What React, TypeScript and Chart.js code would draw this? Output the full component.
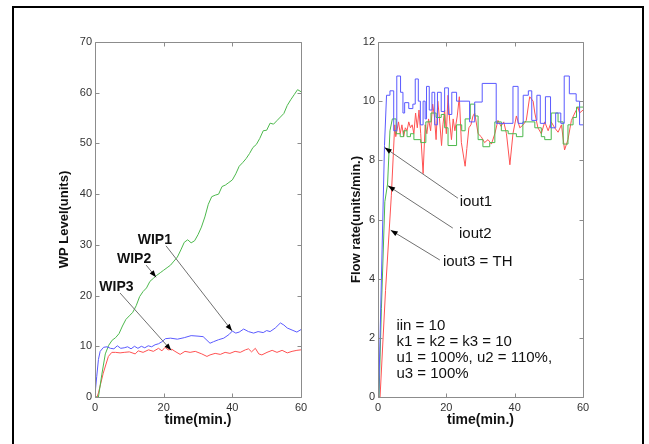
import React, { useEffect, useRef } from "react";
import { Chart, registerables } from "chart.js";

Chart.register(...registerables);

type Pt = [number, number];

const FONT = '"Liberation Sans", Arial, sans-serif';

// ---------- Left panel: WIP levels (time, units) ----------
const xTicksTime = [0, 20, 40, 60];
const wipYRange = [0, 70];
const wipYStep = 10;

const wip1: Pt[] = [[0,0.5],[0.5,4],[1,7.4],[1.5,9],[2.5,9.8],[3.5,9.9],[4.5,9.6],[5.5,9.5],[6.5,10.1],[7.5,9.6],[8.5,9.7],[9.5,9.9],[10.5,9.5],[11.5,10.0],[12.5,9.6],[13.5,10.0],[14.5,9.7],[15.5,10.1],[16.5,9.9],[17.5,10.3],[18.5,10.5],[19.5,10.9],[20.5,11.5],[22,11.6],[24,11.4],[26,11.7],[28,12.1],[30,12.0],[31.5,11.9],[33.5,10.6],[34.5,10.9],[36,11.3],[37.5,11.6],[39,12.3],[40,13.0],[41,12.6],[42,12.8],[43.3,13.4],[44.7,12.9],[46.2,12.6],[47.5,12.9],[49,12.7],[50,13.1],[51,12.9],[52.5,13.6],[54,14.6],[55,14.2],[56,13.6],[57.4,13.2],[58.8,12.8],[60,13.3]];

const wip2: Pt[] = [[0,0],[1,0],[2,4.5],[3,8.5],[4,10.2],[5,11.2],[6,11.7],[7,12.5],[8,14.0],[9,15.3],[10,16.0],[11,16.7],[12,18.0],[13,19.8],[14,20.8],[15,21.5],[16,22.8],[17,23.4],[18,24.0],[19,24.5],[20,25.0],[21,25.5],[22,26.0],[23,26.8],[24,27.6],[25,29.0],[26,30.5],[27,31.0],[28,30.4],[29,30.8],[30,32.0],[31,33.5],[32,35.5],[33,38.0],[34,39.5],[35,39.8],[36,40.0],[37,41.5],[38,41.8],[39,42.3],[40,42.8],[41,44.0],[42,45.5],[43,46.2],[44,47.0],[45,48.0],[46,49.2],[47,49.8],[48,51.0],[49,52.5],[50,52.6],[51,54.0],[52,53.8],[53,54.5],[54,55.2],[55,55.9],[56,57.5],[57,58.6],[58,59.6],[59,60.6],[60,60.2]];

const wip3: Pt[] = [[0,0],[0.6,0],[1,0.8],[2.4,4.7],[3.9,8.0],[4.9,8.8],[6,8.8],[7.3,8.7],[8.5,8.8],[10,8.9],[11.7,8.5],[12.6,9.1],[14,8.8],[15.6,9.3],[17,9.0],[18.5,9.6],[19.5,9.1],[20.4,9.8],[21.3,9.3],[22.4,9.4],[23.3,9.0],[24.8,8.4],[26.2,9.0],[27.7,8.8],[29.2,9.0],[31.1,8.5],[32.6,8.0],[33.5,8.3],[35,8.6],[36.5,8.4],[37.9,8.8],[39.3,8.6],[40.8,9.0],[42.3,8.8],[43.8,9.3],[44.7,9.5],[45.6,8.9],[46.7,9.6],[47.7,8.5],[48.6,8.3],[50.1,8.8],[51.6,9.2],[53,8.8],[54.5,9.2],[56,8.7],[57.4,9.0],[58.8,9.2],[60,9.3]];

// ---------- Right panel: flow rates (time, units/min.) ----------
const flowYRange = [0, 12];
const flowYStep = 2;

const iout1Ramp: Pt[] = [[0.2,0],[1.2,5],[1.9,8.5],[2.5,10.2]];
const iout1: Pt[] = [[2.5,10.2],[3.5,10.35],[4.6,9.0],[5.5,10.85],[6.6,10.3],[7.3,9.6],[7.8,9.95],[9.0,9.75],[10.2,9.9],[10.9,10.75],[11.8,10.0],[12.4,9.2],[13.2,10.0],[13.8,9.4],[14.2,10.5],[15.0,9.7],[15.8,10.3],[16.6,9.2],[17.4,10.3],[18.5,9.65],[19.5,10.45],[20.6,9.55],[21.6,10.3],[23.0,10.0],[26.8,9.3],[28.3,9.97],[30.5,10.6],[34.6,9.25],[39.5,10.5],[41.0,9.25],[42.5,10.2],[44.0,10.35],[45.0,9.35],[46.5,10.2],[47.5,9.25],[49.0,10.15],[50.5,9.1],[52.0,9.6],[53.5,9.25],[54.5,10.85],[56.0,10.25],[58.0,10.0],[59.0,9.2],[60,9.2]];

const iout2Ramp: Pt[] = [[0.3,0],[1.0,3],[2.0,6.6],[2.8,7.2],[3.5,9.0],[4.2,9.4]];
const iout2: Pt[] = [[4.2,9.4],[5.3,8.9],[6.5,8.8],[7.5,9.0],[8.5,8.8],[9.5,8.9],[10.5,8.7],[12.5,8.6],[14.0,9.3],[15.5,9.6],[17.0,9.45],[18.5,9.55],[19.5,9.1],[20.5,8.5],[23.0,9.2],[24.5,9.0],[25.5,9.4],[27.0,9.9],[28.3,9.5],[29.3,8.7],[30.7,8.46],[32.7,8.6],[34.2,9.3],[36.1,9.0],[38.1,8.9],[40.5,8.8],[42.4,9.3],[45.9,9.1],[47.8,8.8],[48.8,8.7],[50.7,9.6],[52.7,9.3],[54.2,8.55],[55.6,9.2],[57.1,9.45],[58.1,9.8],[60,9.8]];

const iout3: Pt[] = [[0,0],[0.6,0],[2.2,3.6],[3.9,6.8],[4.9,9.2],[5.2,8.8],[6.0,9.3],[6.5,8.9],[7.0,9.2],[7.5,8.8],[8.0,9.1],[8.5,9.0],[9.0,9.3],[9.5,9.1],[10.0,9.2],[10.5,8.9],[11.0,9.6],[11.5,9.1],[12.0,9.7],[12.5,8.9],[13.2,7.55],[13.8,9.2],[14.3,8.9],[14.8,9.4],[15.4,9.0],[16.0,9.9],[16.5,9.5],[17.0,8.7],[17.5,10.0],[18.0,9.4],[18.6,8.5],[19.0,9.2],[19.5,9.7],[20.0,8.9],[20.5,10.2],[21.0,9.3],[21.5,8.7],[22.0,9.4],[22.5,9.0],[23.2,9.5],[23.8,10.15],[24.4,8.6],[25.5,7.8],[26.0,8.4],[26.6,9.1],[27.2,9.2],[27.8,9.5],[28.3,9.6],[29.3,8.9],[30.2,8.8],[31.2,8.6],[32.2,8.7],[33.2,8.55],[34.2,8.9],[35.1,9.35],[36.0,9.15],[36.8,9.3],[37.6,8.9],[38.6,7.85],[39.5,8.9],[40.5,9.5],[41.5,9.1],[42.5,9.2],[43.4,9.35],[44.4,10.15],[45.4,10.0],[45.9,9.6],[46.8,9.1],[47.8,8.9],[48.8,9.3],[49.8,9.0],[50.7,9.3],[51.7,9.1],[52.7,8.95],[53.7,9.2],[54.6,8.35],[55.6,8.7],[56.6,9.35],[57.6,9.6],[58.5,9.8],[59.0,9.6],[60,9.7]];

// ---------- Annotations (data coordinates) ----------
type Label = { text: string; at: Pt; font: string };
type Arrow = { from: Pt; to: Pt };

const wipLabels: Label[] = [
  { text: "WIP1", at: [12.45, 30.97], font: `bold 14px ${FONT}` },
  { text: "WIP2", at: [6.4, 27.2], font: `bold 14px ${FONT}` },
  { text: "WIP3", at: [1.25, 21.65], font: `bold 14px ${FONT}` },
];
const wipArrows: Arrow[] = [
  { from: [20.7, 29.8], to: [39.9, 13.05] },
  { from: [14.9, 26.0], to: [17.8, 23.6] },
  { from: [7.3, 20.5], to: [22.2, 9.2] },
];

const flowLabels: Label[] = [
  { text: "iout1", at: [23.9, 6.6], font: `15px ${FONT}` },
  { text: "iout2", at: [23.7, 5.53], font: `15px ${FONT}` },
  { text: "iout3 = TH", at: [19.0, 4.56], font: `15px ${FONT}` },
  { text: "iin = 10", at: [5.4, 2.41], font: `15px ${FONT}` },
  { text: "k1 = k2 = k3 = 10", at: [5.4, 1.87], font: `15px ${FONT}` },
  { text: "u1 = 100%, u2 = 110%,", at: [5.4, 1.32], font: `15px ${FONT}` },
  { text: "u3 = 100%", at: [5.4, 0.79], font: `15px ${FONT}` },
];
const flowArrows: Arrow[] = [
  { from: [23.4, 6.72], to: [1.95, 8.43] },
  { from: [21.9, 5.71], to: [2.94, 7.14] },
  { from: [18.1, 4.63], to: [3.72, 5.64] },
];

const BLUE = "#5a5aff";
const GREEN = "#4cb84c";
const RED = "#ff5252";

const toXY = (a: Pt[]) => a.map(([x, y]) => ({ x, y }));

const framePlugin = {
  id: "matlabFrame",
  afterDatasetsDraw(chart: any) {
    const { ctx, chartArea } = chart;
    const { left, right, top, bottom } = chartArea;
    const xs = chart.scales.x;
    const ys = chart.scales.y;
    const L = Math.round(left) + 0.5;
    const R = Math.round(right) + 0.5;
    const T = Math.round(top) + 0.5;
    const B = Math.round(bottom) + 0.5;
    ctx.save();
    ctx.strokeStyle = "#8c8c8c";
    ctx.lineWidth = 1;
    ctx.beginPath();
    ctx.rect(L, T, R - L, B - T);
    ctx.stroke();
    const len = 4;
    ctx.beginPath();
    xs.ticks.forEach((t: any) => {
      const p = Math.round(xs.getPixelForValue(t.value)) + 0.5;
      ctx.moveTo(p, B);
      ctx.lineTo(p, B - len);
      ctx.moveTo(p, T);
      ctx.lineTo(p, T + len);
    });
    ys.ticks.forEach((t: any) => {
      const p = Math.round(ys.getPixelForValue(t.value)) + 0.5;
      ctx.moveTo(L, p);
      ctx.lineTo(L + len, p);
      ctx.moveTo(R, p);
      ctx.lineTo(R - len, p);
    });
    ctx.stroke();
    ctx.restore();
  },
};

function makeNotesPlugin(labels: Label[], arrows: Arrow[]) {
  return {
    id: "notes",
    afterDraw(chart: any) {
      const { ctx } = chart;
      const xs = chart.scales.x;
      const ys = chart.scales.y;
      ctx.save();
      arrows.forEach((a) => {
        const x0 = xs.getPixelForValue(a.from[0]);
        const y0 = ys.getPixelForValue(a.from[1]);
        const x1 = xs.getPixelForValue(a.to[0]);
        const y1 = ys.getPixelForValue(a.to[1]);
        ctx.strokeStyle = "#707070";
        ctx.lineWidth = 1;
        ctx.beginPath();
        ctx.moveTo(x0, y0);
        ctx.lineTo(x1, y1);
        ctx.stroke();
        const ang = Math.atan2(y1 - y0, x1 - x0);
        const hl = 7;
        const hw = 2.6;
        const bx = x1 - hl * Math.cos(ang);
        const by = y1 - hl * Math.sin(ang);
        ctx.fillStyle = "#000";
        ctx.beginPath();
        ctx.moveTo(x1, y1);
        ctx.lineTo(bx + hw * Math.sin(ang), by - hw * Math.cos(ang));
        ctx.lineTo(bx - hw * Math.sin(ang), by + hw * Math.cos(ang));
        ctx.closePath();
        ctx.fill();
      });
      ctx.fillStyle = "#111";
      ctx.textAlign = "left";
      ctx.textBaseline = "middle";
      labels.forEach((l) => {
        ctx.font = l.font;
        ctx.fillText(l.text, xs.getPixelForValue(l.at[0]), ys.getPixelForValue(l.at[1]));
      });
      ctx.restore();
    },
  };
}

function lineDs(data: Pt[], color: string, stepped: boolean = false) {
  return {
    data: toXY(data),
    borderColor: color,
    backgroundColor: color,
    borderWidth: 1,
    pointRadius: 0,
    tension: 0,
    stepped: stepped ? "before" : false,
    fill: false,
  };
}

type PanelSpec = {
  width: number;
  height: number;
  pad: { left: number; right: number; top: number; bottom: number };
  yWidth: number;
  xHeight: number;
  yTitle: string;
  yTitlePad: number;
  yRange: number[];
  yStep: number;
  datasets: any[];
  labels: Label[];
  arrows: Arrow[];
};

function buildConfig(s: PanelSpec): any {
  return {
    type: "line",
    data: { datasets: s.datasets },
    options: {
      responsive: false,
      animation: false,
      devicePixelRatio: 1,
      layout: { padding: s.pad },
      plugins: { legend: { display: false }, tooltip: { enabled: false } },
      scales: {
        x: {
          type: "linear",
          min: xTicksTime[0],
          max: xTicksTime[xTicksTime.length - 1],
          afterBuildTicks: (sc: any) => {
            sc.ticks = xTicksTime.map((v) => ({ value: v }));
          },
          ticks: { font: { family: FONT, size: 11 }, color: "#333", padding: 4, maxRotation: 0 },
          grid: { display: false, drawTicks: false, tickLength: 0 },
          border: { display: false },
          title: {
            display: true,
            text: "time(min.)",
            font: { family: FONT, size: 14, weight: "bold" },
            color: "#111",
            padding: { top: 0, bottom: 15.6 },
          },
          afterFit: (sc: any) => {
            sc.height = s.xHeight;
          },
        },
        y: {
          type: "linear",
          min: s.yRange[0],
          max: s.yRange[1],
          ticks: { stepSize: s.yStep, font: { family: FONT, size: 11 }, color: "#333", padding: 3 },
          grid: { display: false, drawTicks: false, tickLength: 0 },
          border: { display: false },
          title: {
            display: true,
            text: s.yTitle,
            font: { family: FONT, size: 13, weight: "bold" },
            color: "#111",
            padding: { top: s.yTitlePad, bottom: 0 },
          },
          afterFit: (sc: any) => {
            sc.width = s.yWidth;
          },
        },
      },
    },
    plugins: [framePlugin, makeNotesPlugin(s.labels, s.arrows)],
  };
}

function Panel({ spec, left }: { spec: PanelSpec; left: number }) {
  const ref = useRef<HTMLCanvasElement | null>(null);
  useEffect(() => {
    if (!ref.current) return;
    const chart = new Chart(ref.current, buildConfig(spec));
    return () => chart.destroy();
  }, []);
  return (
    <canvas
      ref={ref}
      width={spec.width}
      height={spec.height}
      style={{ position: "absolute", left, top: 0, width: spec.width, height: spec.height }}
    />
  );
}

const leftSpec: PanelSpec = {
  width: 300,
  height: 444,
  pad: { left: 0, right: 19, top: 42, bottom: 0 },
  yWidth: 75,
  xHeight: 47,
  yTitle: "WP Level(units)",
  yTitlePad: 36.7,
  yRange: wipYRange,
  yStep: wipYStep,
  datasets: [lineDs(wip1, BLUE), lineDs(wip2, GREEN), lineDs(wip3, RED)],
  labels: wipLabels,
  arrows: wipArrows,
};

const rightSpec: PanelSpec = {
  width: 329,
  height: 444,
  pad: { left: 0, right: 66, top: 42, bottom: 0 },
  yWidth: 58,
  xHeight: 47,
  yTitle: "Flow rate(units/min.)",
  yTitlePad: 29.0,
  yRange: flowYRange,
  yStep: flowYStep,
  datasets: [
    lineDs(iout1Ramp, BLUE),
    lineDs(iout1, BLUE, true),
    lineDs(iout2Ramp, GREEN),
    lineDs(iout2, GREEN, true),
    lineDs(iout3, RED),
  ],
  labels: flowLabels,
  arrows: flowArrows,
};

export default function App() {
  return (
    <div
      style={{
        position: "absolute",
        left: 0,
        top: 0,
        width: 649,
        height: 444,
        overflow: "hidden",
        background: "#fff",
      }}
    >
      <div
        style={{
          position: "absolute",
          left: 12,
          top: 6,
          width: 632,
          height: 470,
          border: "2px solid #000",
          boxSizing: "border-box",
        }}
      />
      <Panel spec={leftSpec} left={20} />
      <Panel spec={rightSpec} left={320} />
    </div>
  );
}
